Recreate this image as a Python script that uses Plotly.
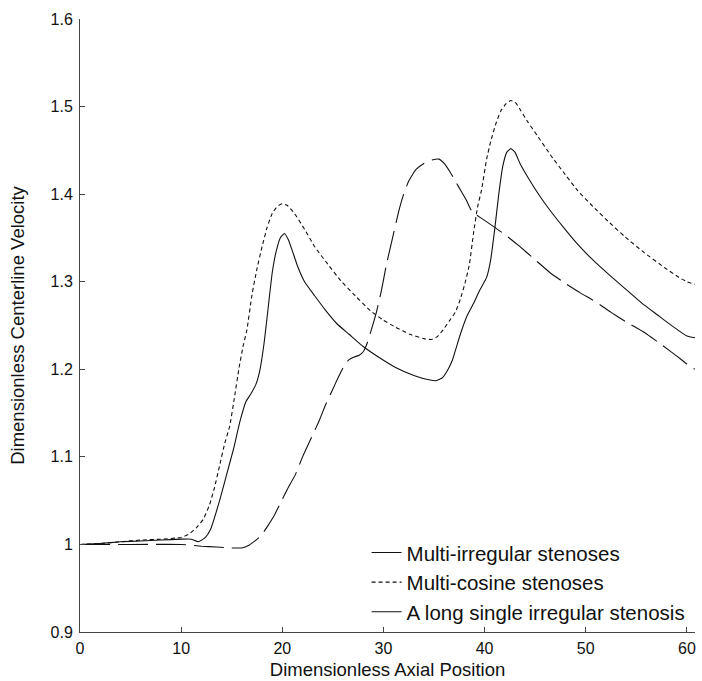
import plotly.graph_objects as go

# Multi-irregular stenoses (solid)
x_irr = [0, 2, 4, 6, 8, 10, 11, 11.7, 12.4, 12.9, 13.8, 14.5, 15.2, 15.8, 16.4, 16.9, 17.4, 17.8,
         18.2, 18.6, 19.0, 19.4, 19.8, 20.2, 20.6, 21.0, 21.5, 22.2, 23.2, 24.3, 25.4, 26.6, 28,
         29.5, 31.2, 33, 34.5, 35.2, 35.8, 36.3, 36.8, 37.6, 38.3, 38.9, 39.5, 40.2, 40.6, 41.0,
         41.4, 41.8, 42.2, 42.6, 43.0, 43.5, 44.5, 45.5, 46.5, 47.8, 49.1, 50.6, 52.3, 54, 55.6,
         57.1, 58.6, 60, 60.8]
y_irr = [1.000, 1.001, 1.003, 1.004, 1.005, 1.006, 1.006, 1.003, 1.008, 1.017, 1.050, 1.080, 1.110,
         1.140, 1.163, 1.172, 1.183, 1.200, 1.230, 1.270, 1.310, 1.335, 1.350, 1.355, 1.348, 1.335,
         1.318, 1.300, 1.284, 1.267, 1.252, 1.240, 1.226, 1.214, 1.202, 1.193, 1.188, 1.187, 1.190,
         1.198, 1.210, 1.240, 1.262, 1.275, 1.290, 1.305, 1.325, 1.360, 1.400, 1.432, 1.448, 1.452,
         1.448, 1.435, 1.415, 1.397, 1.381, 1.362, 1.344, 1.326, 1.308, 1.291, 1.275, 1.262, 1.249,
         1.238, 1.236]

# Multi-cosine stenoses (dashed)
x_cos = [0, 2, 4, 6, 8, 10, 10.8, 11.5, 12.2, 12.8, 13.3, 13.8, 14.3, 14.8, 15.3, 15.7, 16.1, 16.5,
         17.0, 17.5, 18.0, 18.5, 19.0, 19.5, 20.0, 20.5, 21.2, 22.2, 23.2, 24.5, 25.8, 27.2, 28.7,
         30, 31.2, 32.6, 34, 34.7, 35.3, 35.9, 36.5, 37.1, 37.6, 38.1, 38.5, 38.9, 39.3, 39.7, 40.2,
         40.6, 41.1, 41.6, 42.1, 42.6, 43.1, 43.6, 44.3, 45.2, 46.5, 47.8, 49.2, 50.7, 52.3, 53.9,
         55.8, 57.8, 59.2, 60.0, 60.8]
y_cos = [1.000, 1.001, 1.003, 1.005, 1.006, 1.008, 1.012, 1.019, 1.029, 1.045, 1.065, 1.090, 1.115,
         1.135, 1.170, 1.200, 1.225, 1.245, 1.285, 1.315, 1.340, 1.362, 1.378, 1.386, 1.389, 1.387,
         1.378, 1.360, 1.340, 1.320, 1.301, 1.284, 1.267, 1.256, 1.248, 1.240, 1.235, 1.234, 1.237,
         1.245, 1.255, 1.265, 1.280, 1.300, 1.320, 1.355, 1.385, 1.405, 1.440, 1.460, 1.480, 1.495,
         1.503, 1.507, 1.504, 1.495, 1.482, 1.467, 1.445, 1.425, 1.404, 1.386, 1.368, 1.351, 1.333,
         1.316, 1.305, 1.300, 1.297]

# A long single irregular stenosis (long dash)
x_long = [0, 5, 10, 12, 13.5, 15, 16, 16.7, 17.3, 17.9, 18.5, 19.2, 19.8, 20.5, 21.3, 22.0, 22.8,
          23.6, 24.3, 24.9, 25.5, 26.1, 26.6, 27.1, 27.6, 28.0, 28.4, 28.8, 29.3, 29.8, 30.3, 30.9,
          31.5, 32.0, 32.5, 33.2, 34.0, 34.8, 35.5, 36.0, 36.6, 37.2, 37.7, 38.2, 38.7, 39.1, 40,
          41, 42.1, 43.5, 45, 46.5, 48, 49.5, 51, 52.5, 54, 55.8, 57.5, 59, 60, 60.8]
y_long = [1.000, 1.000, 1.000, 0.998, 0.997, 0.996, 0.996, 0.999, 1.004, 1.010, 1.020, 1.033, 1.047,
          1.063, 1.080, 1.100, 1.120, 1.140, 1.160, 1.175, 1.190, 1.204, 1.211, 1.214, 1.216, 1.220,
          1.230, 1.245, 1.265, 1.290, 1.320, 1.350, 1.380, 1.400, 1.415, 1.428, 1.435, 1.439, 1.440,
          1.435, 1.425, 1.413, 1.403, 1.393, 1.381, 1.377, 1.370, 1.362, 1.353, 1.340, 1.325, 1.310,
          1.298, 1.287, 1.277, 1.265, 1.254, 1.242, 1.228, 1.215, 1.206, 1.200]

x_ticks = [0, 10, 20, 30, 40, 50, 60]
y_ticks = [0.9, 1.0, 1.1, 1.2, 1.3, 1.4, 1.5, 1.6]
y_tick_text = ["0.9", "1", "1.1", "1.2", "1.3", "1.4", "1.5", "1.6"]

names = ["Multi-irregular stenoses", "Multi-cosine stenoses", "A long single irregular stenosis"]

FONT = "Liberation Sans, Arial, sans-serif"

fig = go.Figure()
fig.add_trace(go.Scatter(x=x_irr, y=y_irr, mode="lines", name=names[0],
                         line=dict(color="#111111", width=1.1, shape="spline", smoothing=0.4)))
fig.add_trace(go.Scatter(x=x_cos, y=y_cos, mode="lines", name=names[1],
                         line=dict(color="#111111", width=1.1, dash="4px,3px", shape="spline", smoothing=0.4)))
fig.add_trace(go.Scatter(x=x_long, y=y_long, mode="lines", name=names[2],
                         line=dict(color="#111111", width=1.1, dash="30px,8px", shape="spline", smoothing=0.4)))

axis_common = dict(showline=True, linecolor="#444444", linewidth=1, ticks="inside", ticklen=5,
                   tickcolor="#444444", showgrid=False, zeroline=False, mirror=False, automargin=False,
                   tickfont=dict(family=FONT, size=16, color="#111111"),
                   title_font=dict(family=FONT, size=18.5, color="#111111"))

fig.update_layout(
    width=702, height=681,
    margin=dict(l=80, r=7, t=19, b=49),
    paper_bgcolor="white", plot_bgcolor="white",
    showlegend=True,
    legend=dict(x=0.466, y=0.162, xanchor="left", yanchor="top", bgcolor="rgba(0,0,0,0)",
                font=dict(family=FONT, size=20.5, color="#111111"),
                tracegroupgap=0),
    xaxis=dict(range=[0, 60.8], tickvals=x_ticks, title=dict(text="Dimensionless Axial Position", standoff=6),
               ticklabelstandoff=2, **axis_common),
    yaxis=dict(range=[0.9, 1.6], tickvals=y_ticks, ticktext=y_tick_text,
               title=dict(text="Dimensionless Centerline Velocity", standoff=21), ticklabelstandoff=3,
               **axis_common),
)

# remove the browser's default 8px body margin so the figure fills the window exactly
fig.write_html("out.html", config={"displayModeBar": False},
               post_script="document.body.style.margin='0';document.body.style.overflow='hidden';")
